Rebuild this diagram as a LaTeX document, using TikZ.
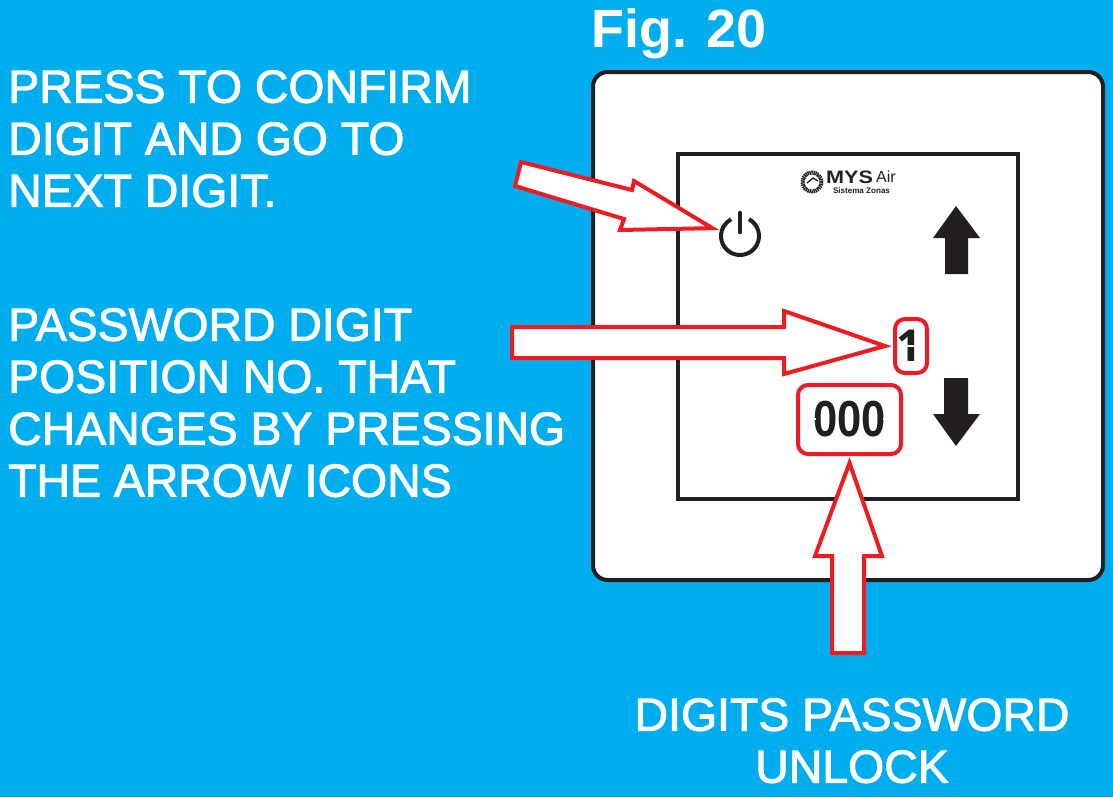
\documentclass[tikz,border=0pt]{standalone}
\usepackage{fontspec}
\setmainfont{Liberation Sans}
\newfontfamily\lcdfont[FakeStretch=0.86]{Liberation Sans}
\newfontfamily\posfont{Open Sans}
\newfontfamily\logofont[FakeStretch=1.2]{Liberation Sans}
\usetikzlibrary{positioning}
\definecolor{skyback}{HTML}{00AEEF}
\definecolor{panelink}{HTML}{231F20}
\definecolor{calloutred}{HTML}{ED1C24}
\newcommand{\heavy}[1]{\special{pdf:code 2 Tr 0.7 w 1 1 1 RG}#1\special{pdf:code 0 Tr}}

\begin{document}
\begin{tikzpicture}[
    x=0.75pt, y=-0.75pt,
    note/.style={text=white, inner sep=0pt, font=\fontsize{34.8}{39}\selectfont},
    frame/.style={draw=panelink, fill=white, line width=3pt},
    callout/.style={draw=calloutred, fill=white, line width=3pt},
    lcdbox/.style={draw=calloutred, line width=3pt, rounded corners=7.5pt, outer sep=0pt},
    lcd/.style={text=panelink, inner sep=0pt, font=\lcdfont\bfseries\fontsize{38}{38}\selectfont},
    pad/.style={fill=panelink}
  ]
    \useasboundingbox (0,0) rectangle (1113,797);
    \fill[skyback] (0,0) rectangle (1113,797);

    \node[text=white, inner sep=0pt, font=\bfseries\fontsize{40.4}{46}\selectfont] (title) at (679,34) {Fig. 20};

    % panel
    \draw[frame, rounded corners=11pt] (593,72) rectangle (1103,580);
    \draw[frame] (678,154) rectangle (1018,499);

    % logo
    \draw[panelink, line width=3pt, dash pattern=on 1pt off 0.5pt] (812,182) circle (9.5);
    \draw[panelink, line width=1pt] (807,183) -- (813,178) -- (818,181);
    \node[text=panelink, inner sep=0pt, font=\logofont\bfseries\fontsize{13.5}{14}\selectfont] (logomys) at (849.5,177) {MYS};
    \node[text=panelink, inner sep=0pt, font=\fontsize{12}{12}\selectfont, right=2pt of logomys] (logoair) {Air};
    \node[text=panelink, inner sep=0pt, font=\bfseries\fontsize{6.05}{7}\selectfont] (logozones) at (861.5,190.5) {Sistema Zonas};

    % keys
    \node[circle, minimum size=34.5pt, inner sep=0pt, outer sep=0pt] (powerkey) at (740,236) {};
    \draw[panelink, line width=3pt] (740,236) ++(-62:19) arc[start angle=-62, end angle=242, radius=19];
    \draw[panelink, line width=3.4pt, line cap=round] (740,213) -- (740,232);
    \fill[pad] (956,206) -- (980,238) -- (968,238) -- (968,274) -- (945,274) -- (945,238) -- (933,238) -- cycle;
    \fill[pad] (956,446) -- (980,414) -- (968,414) -- (968,378) -- (944,378) -- (944,414) -- (933,414) -- cycle;

    % display
    \node[lcdbox, minimum width=24pt, minimum height=40.5pt] (digitbox) at (911,346) {};
    \node[lcdbox, minimum width=77.25pt, minimum height=51.75pt] (passbox) at (849.5,419.5) {};
    \node[lcd, font=\posfont\bfseries\fontsize{33}{33}\selectfont] (digitno) at (909,346) {1};
    \node[lcd] (passdigits) at (849.5,419) {000};
    \draw[white, line width=0.8pt] (904,346) -- (918,346);
    \draw[white, line width=0.8pt] (811,419) -- (816,419) (883,419) -- (888,419);

    % callouts
    \draw[callout] (521,162) -- (632,190) -- (634,181) -- ([xshift=-4.5pt]powerkey.160) -- (620,230) -- (624,219) -- (515,186) -- cycle;
    \draw[callout] (512,327) -- (784,327) -- (784,311) -- ([xshift=-7.5pt]digitbox.west) -- (784,374) -- (784,358) -- (512,358) -- cycle;
    \draw[callout] (832,653) -- (832,556) -- (815,556) -- ([yshift=-6.75pt]passbox.south) -- (882,556) -- (864,556) -- (864,653) -- cycle;

    % texts
    \node[note, anchor=north west, align=left] (confirmnote) at (8,70) {\heavy{PRESS TO CONFIRM\\DIGIT AND GO TO\\NEXT DIGIT.}};
    \node[note, anchor=north west, align=left] (positionnote) at (8,308) {\heavy{PASSWORD DIGIT\\POSITION NO. THAT\\CHANGES BY PRESSING\\THE ARROW ICONS}};
    \node[note, anchor=north, align=center] (unlocknote) at (852,698) {\heavy{DIGITS PASSWORD\\UNLOCK}};
\end{tikzpicture}
\end{document}
